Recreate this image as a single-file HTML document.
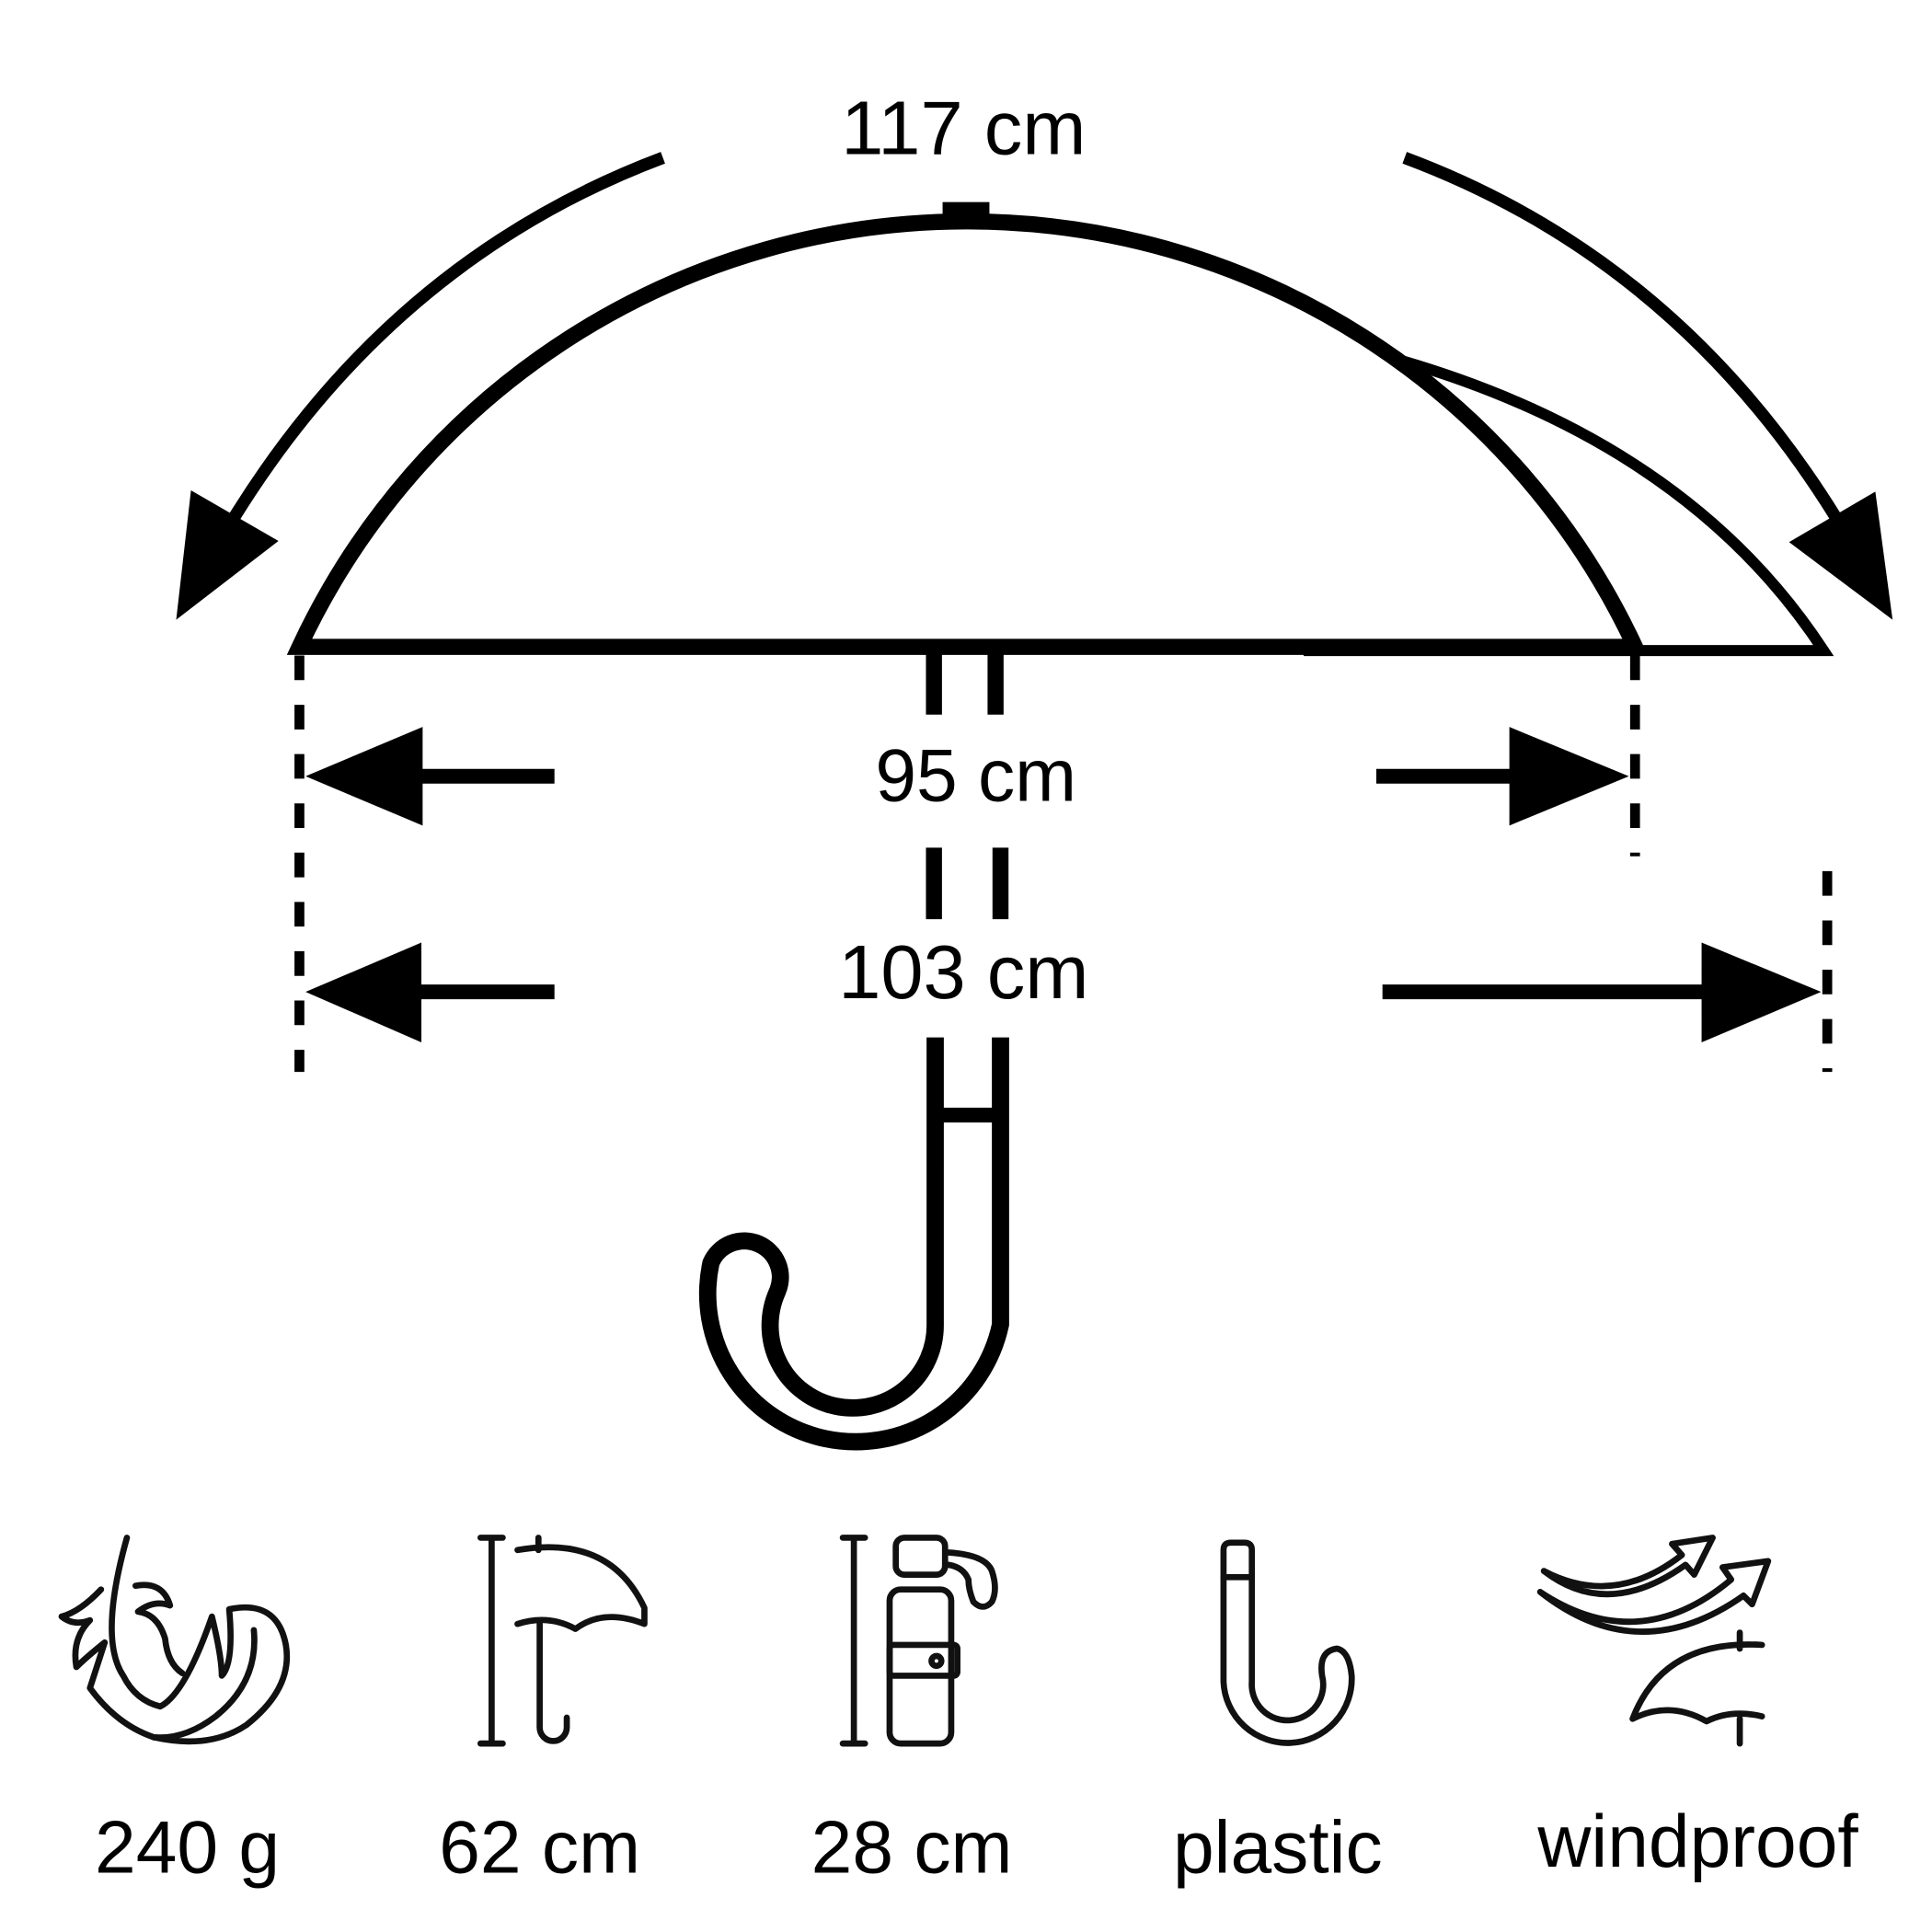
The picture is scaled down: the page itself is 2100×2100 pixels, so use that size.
<!DOCTYPE html>
<html><head><meta charset="utf-8"><style>
html,body{margin:0;padding:0;background:#fff;}
svg{display:block}
text{font-family:"Liberation Sans",sans-serif;fill:#000}
</style></head><body>
<svg width="2100" height="2100" viewBox="0 0 1568 1568" xmlns="http://www.w3.org/2000/svg">
<rect width="1568" height="1568" fill="#fff"/>
<g fill="none" stroke="#000">
<path d="M538,128 Q320,210 190,420" stroke-width="10"/>
<path d="M1140,128 Q1360,210 1490,420" stroke-width="10"/>
<path d="M243,525 A598,598 0 0 1 1327,525 Z" stroke-width="13"/>
<path d="M1135,292 Q1370,360 1480,528 L1327,528" stroke-width="9"/>
<line x1="1058" y1="528" x2="1330" y2="528" stroke-width="9"/>
<path d="M758,525V580M808,525V580M758,688V746M812,688V746" stroke-width="13"/>
<path d="M243,532V870" stroke-width="8" stroke-dasharray="20,20"/>
<path d="M1327,532V695" stroke-width="8" stroke-dasharray="20,20"/>
<path d="M1483,707V870" stroke-width="8" stroke-dasharray="20,20"/>
<path d="M340,630H450M1117,630H1228M340,805H450M1122,805H1384" stroke-width="12"/>
<path d="M812,842V1075A120,120 0 1 1 577,1025A27,27 0 0 1 631,1048A67,67 0 1 0 759,1075V842" stroke-width="14" stroke-linejoin="round"/>
<line x1="759" y1="905" x2="812" y2="905" stroke-width="12"/>
</g>
<g fill="#000">
<rect x="765" y="164" width="38" height="18"/>
<polygon points="155,398 226,439 143,503"/>
<polygon points="1522,399 1452,440 1536,503"/>
<polygon points="248,630 343,590 343,670"/>
<polygon points="1225,590 1322,630 1225,670"/>
<polygon points="248,805 342,765 342,846"/>
<polygon points="1381,765 1478,805 1381,846"/>
</g>
<text x="782" y="125" font-size="62" text-anchor="middle">117 cm</text>
<text x="792" y="650" font-size="60" text-anchor="middle">95 cm</text>
<text x="782" y="810" font-size="62" text-anchor="middle">103 cm</text>
<g fill="none" stroke="#111" stroke-width="5" stroke-linecap="round" stroke-linejoin="round">
<path d="M103,1248 Q80,1330 100,1360 Q110,1380 130,1385 Q150,1375 172,1312 Q180,1345 180,1360 Q190,1350 186,1306 Q225,1298 232,1335 Q238,1370 200,1400 Q170,1420 125,1410 Q95,1400 73,1370 L85,1333 Q70,1345 62,1353 Q58,1330 73,1315 Q60,1320 50,1312 Q65,1308 82,1290"/>
<path d="M206,1323 Q210,1365 175,1393 Q150,1412 125,1410"/>
<path d="M110,1287 Q132,1283 138,1303 Q125,1298 112,1308 Q128,1310 134,1330 Q136,1350 148,1358"/>
<path d="M390,1248H408M399,1248V1415M390,1415H408"/>
<path d="M420,1258 Q495,1245 523,1305 V1318 Q490,1305 467,1322 Q445,1310 420,1318"/>
<path d="M437,1248V1258M438,1318V1402 A11,11 0 0 0 460,1402V1394"/>
<path d="M684,1248H702M693,1248V1415M684,1415H702"/>
<rect x="727" y="1248" width="40" height="30" rx="7"/>
<rect x="722" y="1290" width="50" height="125" rx="9"/>
<rect x="722" y="1335" width="55" height="25" rx="3"/>
<circle cx="760" cy="1348" r="4"/>
<path d="M770,1260 Q800,1262 805,1275 Q810,1290 805,1300 Q798,1308 790,1300 Q786,1290 786,1282 Q782,1272 770,1270"/>
<path d="M993,1258 Q993,1252 999,1252H1010Q1016,1252 1016,1258V1365A29,29 0 1 0 1073,1360Q1070,1340 1085,1338Q1095,1340 1097,1360A52,52 0 0 1 993,1365Z"/>
<path d="M993,1280H1016"/>
<path d="M1253,1275 Q1310,1305 1365,1262 L1357,1253 L1390,1248 L1375,1278 L1368,1270 Q1305,1315 1253,1275"/>
<path d="M1250,1292 Q1330,1345 1405,1282 L1398,1272 L1435,1267 L1422,1302 L1415,1295 Q1330,1355 1250,1292"/>
<path d="M1325,1395 Q1350,1330 1430,1335 M1325,1395 Q1355,1380 1385,1397 Q1405,1387 1430,1393 M1412,1325V1338M1412,1395V1415"/>
</g>
<g font-size="60" text-anchor="middle">
<text x="152" y="1520">240 g</text>
<text x="438" y="1520">62 cm</text>
<text x="740" y="1520">28 cm</text>
<text x="1037" y="1520">plastic</text>
<text x="1378" y="1515">windproof</text>
</g>
</svg>
</body></html>
